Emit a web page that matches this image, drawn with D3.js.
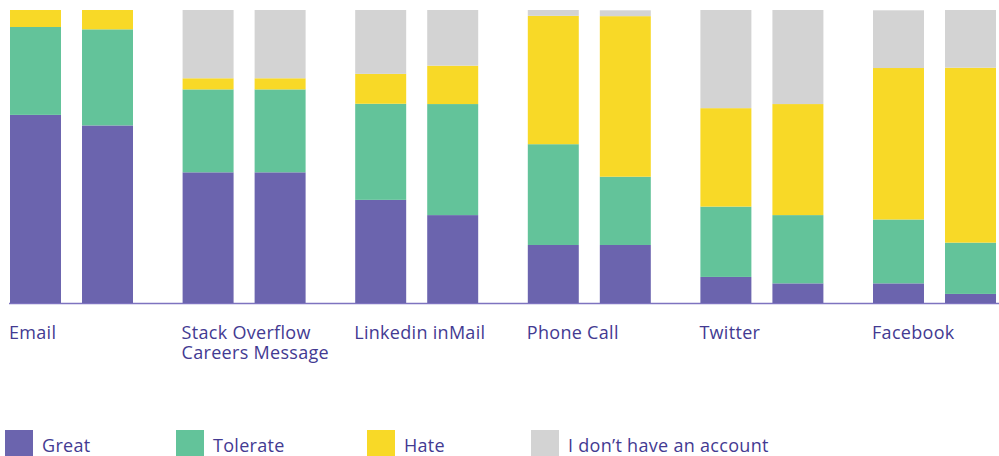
<!DOCTYPE html>
<html>
<head>
<meta charset="utf-8">
<script src="https://cdn.jsdelivr.net/npm/d3@7"></script>
<style>
  html, body { margin: 0; padding: 0; background: #ffffff; }
  svg { display: block; }
  text { font-family: "Open Sans", sans-serif; letter-spacing: 0.3px; }
</style>
</head>
<body>
<svg id="chart" width="999" height="456"></svg>
<script>
// ---- data ----
const categories = ["Email", "Stack Overflow\nCareers Message", "Linkedin inMail", "Phone Call", "Twitter", "Facebook"];
const barsPerCategory = ["A", "B"];
const seriesNames = ["Great", "Tolerate", "Hate", "I don\u2019t have an account"];
// values in percent, one entry per bar (category x 2)
const great    = [64.2, 60.6, 44.6, 44.6, 35.2, 30.0, 19.8, 19.8, 8.9, 6.7, 6.7, 3.1];
const tolerate = [30.0, 32.8, 28.3, 28.3, 32.8, 37.9, 34.4, 23.3, 24.0, 23.3, 21.8, 17.5];
const hate     = [5.8, 6.6, 3.8, 3.8, 10.2, 13.1, 43.8, 54.8, 33.6, 37.9, 51.7, 59.7];
const noAcct   = [0, 0, 23.3, 23.3, 21.8, 19.0, 2.0, 2.0, 33.5, 32.1, 19.7, 19.7];
const colors   = ["#6b64ae", "#63c39a", "#f8d927", "#d3d3d3"];

(function () {
// ---- build rows ----
const rows = [];
categories.forEach((c, ci) => {
  barsPerCategory.forEach((b, bi) => {
    const i = ci * 2 + bi;
    rows.push({ cat: c, bar: b, "Great": great[i], "Tolerate": tolerate[i], "Hate": hate[i], [seriesNames[3]]: noAcct[i] });
  });
});

const svg = d3.select("#chart");
const yTop = 10, yBottom = 303;

const x0 = d3.scaleBand().domain(categories).range([10, 10 + 6 * 172.6]).paddingInner(0).paddingOuter(0);
const x1 = d3.scaleBand().domain(barsPerCategory).range([0, 123]).paddingInner(0.292).paddingOuter(0);
const y = d3.scaleLinear().domain([0, 100]).range([yBottom, yTop]);
const color = d3.scaleOrdinal().domain(seriesNames).range(colors);

const stacked = d3.stack().keys(seriesNames)(rows);

// baseline
svg.append("line")
  .attr("x1", 9).attr("x2", 999)
  .attr("y1", y(0) + 0.5).attr("y2", y(0) + 0.5)
  .attr("stroke", "#7e73c0").attr("stroke-width", 1.5);

svg.append("g").selectAll("g")
  .data(stacked)
  .join("g")
  .attr("fill", d => color(d.key))
  .selectAll("rect")
  .data(d => d)
  .join("rect")
  .attr("x", d => x0(d.data.cat) + x1(d.data.bar))
  .attr("width", x1.bandwidth())
  .attr("y", d => y(d[1]))
  .attr("height", d => y(d[0]) - y(d[1]));

// category labels (one text element per line)
const labelLines = [];
categories.forEach(c => c.split("\n").forEach((line, li) => labelLines.push({ cat: c, line, li })));
svg.append("g").selectAll("text")
  .data(labelLines)
  .join("text")
  .attr("x", d => x0(d.cat) - 1)
  .attr("y", d => 339 + d.li * 19.5)
  .attr("fill", "#433a92")
  .attr("font-size", 18)
  .attr("font-weight", 500)
  .text(d => d.line);

// legend
const legendX = [5, 176, 367, 531];
const lg = svg.append("g").selectAll("g")
  .data(seriesNames)
  .join("g")
  .attr("transform", (d, i) => `translate(${legendX[i]},430)`);
lg.append("rect").attr("width", 28).attr("height", 28).attr("fill", d => color(d));
lg.append("text").attr("x", 37).attr("y", 22)
  .attr("fill", "#433a92").attr("font-size", 18).attr("font-weight", 500)
  .text(d => d);
})();
</script>
</body>
</html>
